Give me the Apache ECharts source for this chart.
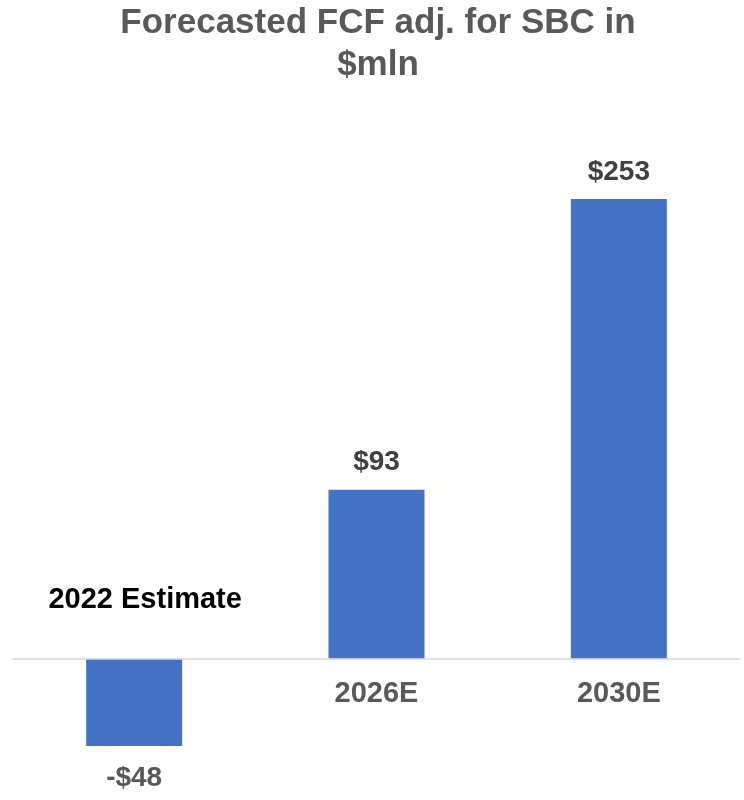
<!DOCTYPE html>
<html>
<head>
<meta charset="utf-8">
<title>Forecasted FCF adj. for SBC</title>
<script src="https://cdn.jsdelivr.net/npm/echarts@6/dist/echarts.min.js"></script>
<style>
  html, body { margin: 0; padding: 0; background: #ffffff; }
  #chart { width: 744px; height: 800px; }
</style>
</head>
<body>
<div id="chart"></div>
<script>
// Free cash flow adjusted for stock-based compensation, $ millions
const categories = ['2022 Estimate', '2026E', '2030E'];
const fcfValues = [-48, 93, 253];

const FONT = '"Liberation Sans", Arial, Helvetica, sans-serif';
const BAR_BLUE = '#4472C4';

function money(v) {
  return (v < 0 ? '-$' : '$') + Math.abs(v);
}

// Categories with a negative value carry their label above the zero line
const axisData = categories.map((name, i) => {
  if (fcfValues[i] < 0) {
    return {
      value: name,
      textStyle: {
        color: '#000000',
        verticalAlign: 'bottom',
        padding: [0, 0, 65, 22]
      }
    };
  }
  return name;
});

const barData = fcfValues.map(v => {
  if (v < 0) {
    return { value: v, label: { position: 'bottom', distance: 18, color: '#595959' } };
  }
  return { value: v };
});

const chart = echarts.init(document.getElementById('chart'), null, { renderer: 'canvas' });

chart.setOption({
  backgroundColor: '#ffffff',
  animation: false,
  title: {
    text: 'Forecasted FCF adj. for SBC in\n$mln',
    left: 378,
    textAlign: 'center',
    top: 0,
    padding: [2, 0, 0, 0],
    textStyle: {
      fontFamily: FONT,
      fontSize: 35,
      fontWeight: 'bold',
      color: '#595959',
      lineHeight: 42
    }
  },
  // the zero line sits on the grid's bottom edge; negative bars hang below it
  grid: {
    left: 13,
    right: 4,
    top: 186.3,
    bottom: 141.3,
    containLabel: false,
    outerBoundsMode: 'none'
  },
  xAxis: {
    type: 'category',
    data: axisData,
    axisLine: { show: true, lineStyle: { color: '#d9d9d9', width: 1.5 } },
    axisTick: { show: false },
    axisLabel: {
      interval: 0,
      margin: 21,
      fontFamily: FONT,
      fontSize: 29,
      fontWeight: 'bold',
      color: '#595959'
    },
    z: 3
  },
  yAxis: {
    type: 'value',
    min: 0,
    max: 260,
    show: false,
    splitLine: { show: false }
  },
  series: [{
    type: 'bar',
    data: barData,
    barWidth: 96,
    clip: false,
    itemStyle: { color: BAR_BLUE },
    label: {
      show: true,
      position: 'top',
      distance: 13,
      fontFamily: FONT,
      fontSize: 28,
      fontWeight: 'bold',
      color: '#404040',
      formatter: p => money(p.value)
    }
  }]
});
</script>
</body>
</html>
